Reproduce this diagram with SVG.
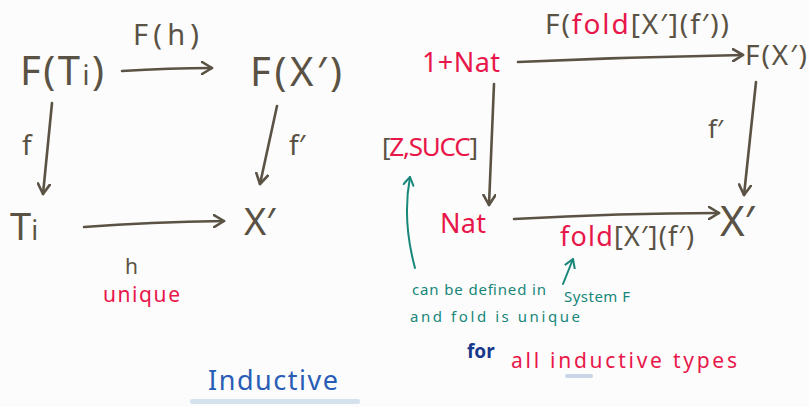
<svg xmlns="http://www.w3.org/2000/svg" width="809" height="407" viewBox="0 0 809 407">
<style>
.t{font-family:"Noto Sans","Liberation Sans",sans-serif;fill:#5a5244}
.r{fill:#e8174a}
.g{font-family:"Noto Sans","Liberation Sans",sans-serif;fill:#17877a;font-size:15px}
.c{fill:none;stroke:#5a5244;stroke-width:2.6;stroke-linecap:round;marker-end:url(#ah)}
.tc{fill:none;stroke:#17877a;stroke-width:2;stroke-linecap:round;marker-end:url(#ahg)}
</style>
<defs>
<marker id="ah" markerWidth="14" markerHeight="14" refX="11" refY="7" orient="auto" markerUnits="userSpaceOnUse">
<path d="M1,1 L11,7 L1,13" fill="none" stroke="#5a5244" stroke-width="2.6" stroke-linecap="round" stroke-linejoin="round"/>
</marker>
<marker id="ahg" markerWidth="12" markerHeight="12" refX="9" refY="6" orient="auto" markerUnits="userSpaceOnUse">
<path d="M1,1 L9,6 L1,11" fill="none" stroke="#17877a" stroke-width="2" stroke-linecap="round" stroke-linejoin="round"/>
</marker>
</defs>
<rect width="809" height="407" fill="#fcfcfc"/>
<g id="connectors">
<path class="c" d="M122,71 Q170,68 212,68"/>
<path class="c" d="M52,103 L43,194"/>
<path class="c" d="M277,106 L260,184"/>
<path class="c" d="M84,227 Q150,222 224,221"/>
<path class="c" d="M518,62 Q630,57 743,55"/>
<path class="c" d="M494,84 L489,205"/>
<path class="c" d="M756,82 L744,195"/>
<path class="c" d="M514,219 Q620,213 719,213"/>
<path class="tc" d="M415,268 Q402,220 410,177"/>
<path class="tc" d="M563,284 L573,259"/>
</g>
<g id="n-FTi"><text class="t" x="20" y="85" font-size="40" textLength="84" lengthAdjust="spacing">F(T<tspan font-size="27">i</tspan>)</text></g>
<g id="l-Fh"><text class="t" x="133" y="45" font-size="29" textLength="66" lengthAdjust="spacing">F(h)</text></g>
<g id="n-FX"><text class="t" x="250" y="86" font-size="40" textLength="92" lengthAdjust="spacing">F(X′)</text></g>
<g id="l-f"><text class="t" x="22" y="155" font-size="28">f</text></g>
<g id="l-f2"><text class="t" x="289" y="155" font-size="28">f′</text></g>
<g id="n-Ti"><text class="t" x="10" y="240" font-size="38">T<tspan font-size="27">i</tspan></text></g>
<g id="n-X"><text class="t" x="244" y="235" font-size="38">X′</text></g>
<g id="l-h"><text class="t" x="125" y="274" font-size="21">h</text><text class="t r" x="103" y="302" font-size="21" textLength="77" lengthAdjust="spacing">unique</text></g>
<g id="n-1Nat"><text class="t r" x="422" y="72" font-size="27" textLength="78" lengthAdjust="spacing">1+Nat</text></g>
<g id="l-Ffold"><text class="t" x="545" y="34" font-size="28" textLength="184" lengthAdjust="spacing">F(<tspan class="r">fold</tspan>[X′](f′))</text></g>
<g id="n-FX2"><text class="t" x="745" y="65" font-size="28" textLength="62" lengthAdjust="spacing">F(X′)</text></g>
<g id="l-zs"><text class="t" x="382" y="156" font-size="26" textLength="96" lengthAdjust="spacing">[<tspan class="r">Z,SUCC</tspan>]</text></g>
<g id="l-f3"><text class="t" x="708" y="138" font-size="26">f′</text></g>
<g id="n-Nat"><text class="t r" x="440" y="233" font-size="27" textLength="46" lengthAdjust="spacing">Nat</text></g>
<g id="l-fold2"><text class="t" x="560" y="246" font-size="27" textLength="134" lengthAdjust="spacing"><tspan class="r">fold</tspan>[X′](f′)</text></g>
<g id="n-X2"><text class="t" x="720" y="236" font-size="42">X′</text></g>
<g id="note1"><text class="g" x="412" y="295" textLength="134" lengthAdjust="spacing">can be defined in</text><text class="g" x="564" y="302" textLength="66" lengthAdjust="spacing">System F</text><text class="g" x="410" y="322" font-size="17" textLength="170" lengthAdjust="spacing">and fold is unique</text></g>
<g id="note2"><text x="467" y="358" font-family="Noto Sans,Liberation Sans,sans-serif" font-size="19" font-weight="bold" fill="#17388a">for</text><text x="511" y="368" font-family="Noto Sans,Liberation Sans,sans-serif" font-size="21" fill="#e8174a" textLength="226" lengthAdjust="spacing">all inductive types</text></g>
<rect x="565" y="374" width="28" height="4" rx="2" fill="#c9d6e6"/>
<g id="title"><rect x="190" y="399" width="170" height="5" rx="2" fill="#d6e1ee"/><text x="208" y="390" font-family="Noto Sans,Liberation Sans,sans-serif" font-size="27" fill="#2a5db5" textLength="130" lengthAdjust="spacing">Inductive</text></g>
</svg>
